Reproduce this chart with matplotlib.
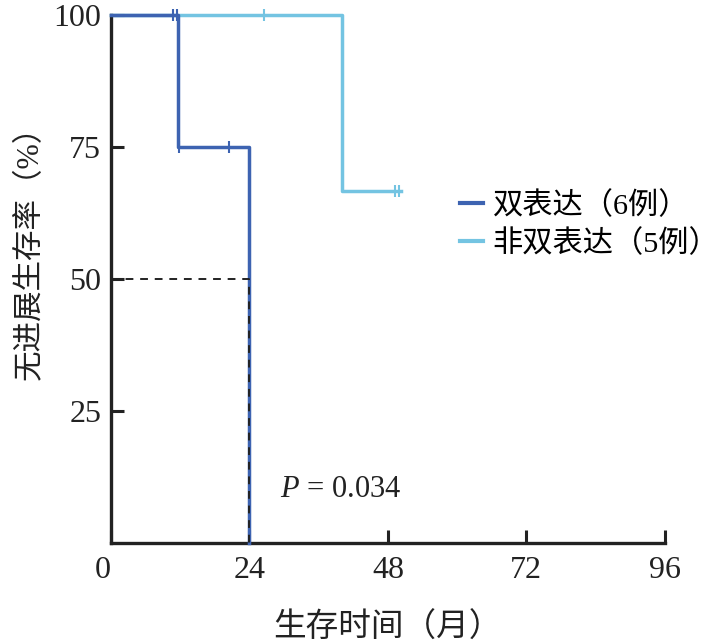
import matplotlib
matplotlib.use("Agg")
import matplotlib.pyplot as plt

# Kaplan-Meier step data
dual_times = [0, 11.6, 24]
dual_surv = [100, 75, 0]
dual_cens_t = [10.7, 11.4, 11.7, 20.4]
dual_cens_s = [100, 100, 75, 75]

non_times = [0, 40, 50.3]
non_surv = [100, 66.7, 66.7]
non_cens_t = [26.5, 49.2, 49.9]
non_cens_s = [100, 66.7, 66.7]

median_t = 24
median_s = 50

xticks = [0, 24, 48, 72, 96]
yticks = [25, 50, 75, 100]
labels = ["双表达（6例）", "非双表达（5例）"]

DARK = "#3d63b1"
LIGHT = "#74c4e2"
INK = "#222222"

plt.rcParams["font.family"] = ["Liberation Serif", "Noto Sans CJK SC"]
plt.rcParams["mathtext.fontset"] = "custom"
plt.rcParams["mathtext.rm"] = "Liberation Serif"
plt.rcParams["mathtext.it"] = "Liberation Serif:italic"

fig = plt.figure(figsize=(7.21, 6.42), dpi=100)
ax = fig.add_axes([0.154, 0.154, 0.768, 0.823])

ax.step(non_times, non_surv, where="post", color=LIGHT, lw=2.5, clip_on=False, zorder=2, label=labels[1])
ax.plot(non_cens_t, non_cens_s, ls="none", marker="|", ms=9, mew=1.5, color=LIGHT, clip_on=False, zorder=2)
ax.step(dual_times, dual_surv, where="post", color=DARK, lw=2.5, clip_on=False, zorder=3, label=labels[0])
ax.plot(dual_cens_t, dual_cens_s, ls="none", marker="|", ms=9, mew=1.5, color=DARK, clip_on=False, zorder=3)

# median survival guide
ax.plot([0, median_t, median_t], [median_s, median_s, 0], color=INK, ls=(0, (4, 3.5)), lw=1.4, zorder=4)

ax.text(29.3, 8.7, "$P$ = 0.034", fontsize=22, color=INK, va="baseline")

ax.set_xlim(0, 96)
ax.set_ylim(0, 100)
ax.set_xticks(xticks)
ax.set_yticks(yticks)
ax.spines["top"].set_visible(False)
ax.spines["right"].set_visible(False)
for side in ("left", "bottom"):
    ax.spines[side].set_linewidth(2.4)
    ax.spines[side].set_color(INK)
ax.tick_params(direction="in", length=9.5, width=2.2, color=INK, labelsize=23, labelcolor=INK)
ax.tick_params(axis="x", pad=9)
ax.tick_params(axis="y", pad=7)
ax.get_xticklabels()[0].set_horizontalalignment("right")

ax.set_xlabel("生存时间（月）", fontsize=23.5, color=INK, labelpad=20)
ax.set_ylabel("无进展生存率（%）", fontsize=22, color=INK)
ax.yaxis.set_label_coords(-0.12, 0.563)

handles, lbls = ax.get_legend_handles_labels()
leg = ax.legend(handles[::-1], lbls[::-1], loc="center left", bbox_to_anchor=(0.63, 0.603),
                frameon=False, fontsize=21.8, handlelength=0.78, handletextpad=0.3,
                labelspacing=0.3, borderpad=0, borderaxespad=0)
for line in leg.get_lines():
    line.set_linewidth(3)

fig.savefig("out.png", dpi=100)
